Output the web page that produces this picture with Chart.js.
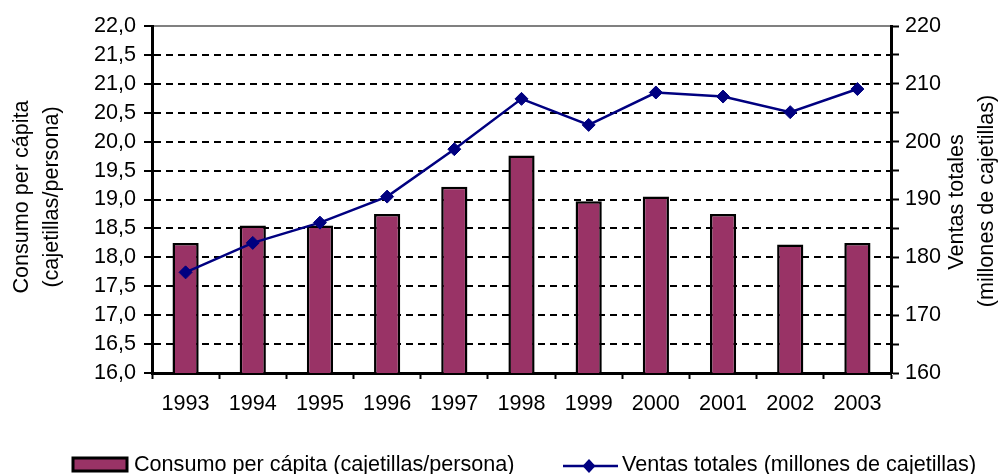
<!DOCTYPE html>
<html>
<head>
<meta charset="utf-8">
<script src="https://cdn.jsdelivr.net/npm/chart.js@4/dist/chart.umd.min.js"></script>
<style>
  html, body { margin: 0; padding: 0; background: #fff; }
  #wrap { width: 1000px; height: 474px; position: relative; }
</style>
</head>
<body>
<div id="wrap"><canvas id="c" width="1000" height="474"></canvas></div>
<script>
const years = ['1993','1994','1995','1996','1997','1998','1999','2000','2001','2002','2003'];
const consumo = [18.25, 18.55, 18.55, 18.75, 19.22, 19.76, 18.97, 19.05, 18.75, 18.22, 18.25];
const ventas = [177.4, 182.5, 186.0, 190.5, 198.7, 207.4, 202.9, 208.5, 207.8, 205.1, 209.1];
const leftTitle = ['Consumo per cápita', '(cajetillas/persona)'];
const rightTitle = ['Ventas totales', '(millones de cajetillas)'];
const legendLabels = ['Consumo per cápita (cajetillas/persona)', 'Ventas totales (millones de cajetillas)'];

const FONT = "'Liberation Sans', Arial, sans-serif";
const FS = 21.6;
const BAR = '#993366';
const NAVY = '#000080';

Chart.defaults.font.family = FONT;
Chart.defaults.font.size = FS;
Chart.defaults.color = '#000';

function zeroPad(s) { s.paddingTop = 0; s.paddingBottom = 0; s.paddingLeft = 0; s.paddingRight = 0; }

const extras = {
  id: 'extras',
  afterDraw(chart) {
    const ctx = chart.ctx;
    ctx.save();
    ctx.fillStyle = '#000';
    ctx.font = FS + 'px ' + FONT;
    ctx.textAlign = 'center';
    ctx.textBaseline = 'middle';
    const rot = (x, y, t) => { ctx.save(); ctx.translate(x, y); ctx.rotate(-Math.PI / 2); ctx.fillText(t, 0, 0); ctx.restore(); };
    rot(22, 197, leftTitle[0]);
    rot(52, 197, leftTitle[1]);
    rot(957, 202, rightTitle[0]);
    rot(987, 201, rightTitle[1]);
    // legend
    const ds0 = chart.data.datasets[0], ds1 = chart.data.datasets[1];
    ctx.fillStyle = ds0.backgroundColor;
    ctx.fillRect(73, 458, 54, 13);
    ctx.lineWidth = 3; ctx.strokeStyle = '#000';
    ctx.strokeRect(73, 458, 54, 13);
    ctx.fillStyle = '#000';
    ctx.textAlign = 'left';
    ctx.fillText(legendLabels[0], 134, 465);
    ctx.strokeStyle = ds1.borderColor; ctx.lineWidth = 2.5;
    ctx.beginPath(); ctx.moveTo(563, 466); ctx.lineTo(618, 466); ctx.stroke();
    ctx.fillStyle = ds1.pointBackgroundColor;
    ctx.beginPath(); ctx.moveTo(589, 459); ctx.lineTo(595.5, 466); ctx.lineTo(589, 473); ctx.lineTo(582.5, 466); ctx.closePath(); ctx.fill();
    ctx.fillStyle = '#000';
    ctx.fillText(legendLabels[1], 622, 465);
    ctx.restore();
  }
};

new Chart(document.getElementById('c'), {
  data: {
    labels: years,
    datasets: [
      {
        type: 'bar', label: legendLabels[0], data: consumo, yAxisID: 'y',
        backgroundColor: BAR, borderColor: '#000', borderWidth: 2.5,
        barPercentage: 0.39, categoryPercentage: 1.0, order: 2
      },
      {
        type: 'line', label: legendLabels[1], data: ventas, yAxisID: 'y2',
        borderColor: NAVY, borderWidth: 2.5, tension: 0,
        pointStyle: 'rectRot', pointRadius: 6.5, pointBackgroundColor: NAVY, pointBorderColor: NAVY, pointBorderWidth: 1,
        order: 1
      }
    ]
  },
  options: {
    responsive: false, animation: false,
    layout: { padding: { top: 26, left: 0, right: 0, bottom: 0 } },
    plugins: { legend: { display: false }, tooltip: { enabled: false } },
    scales: {
      x: {
        position: 'bottom',
        grid: { display: true, drawOnChartArea: false, drawTicks: true, tickLength: 6, tickColor: '#000', tickWidth: 2, offset: true },
        border: { display: true, color: '#000', width: 3 },
        ticks: { padding: 12, color: '#000', maxRotation: 0, autoSkip: false },
        afterFit(s) { s.height = 101; zeroPad(s); }
      },
      y: {
        position: 'left', min: 16, max: 22,
        ticks: { stepSize: 0.5, padding: 8, color: '#000', autoSkip: false,
          callback: v => Number(v).toFixed(1).replace('.', ',') },
        grid: {
          color: c => (c.tick && c.tick.value === 22) ? '#808080' : '#000',
          lineWidth: 2, tickLength: 8, tickColor: '#000', tickWidth: 2, tickBorderDash: []
        },
        border: { display: true, color: '#000', width: 3,
          dash: c => (c.tick && c.tick.value === 22) ? [] : [7, 5] },
        afterFit(s) { s.width = 152; zeroPad(s); }
      },
      y2: {
        position: 'right', min: 160, max: 220,
        ticks: { stepSize: 5, padding: 6, color: '#000', autoSkip: false,
          callback: v => (v % 10 === 0 ? String(v) : '') },
        grid: { drawOnChartArea: false, tickLength: 8, tickColor: '#000', tickWidth: 2 },
        border: { display: true, color: '#000', width: 3 },
        afterFit(s) { s.width = 109; zeroPad(s); }
      }
    }
  },
  plugins: [extras]
});
</script>
</body>
</html>
